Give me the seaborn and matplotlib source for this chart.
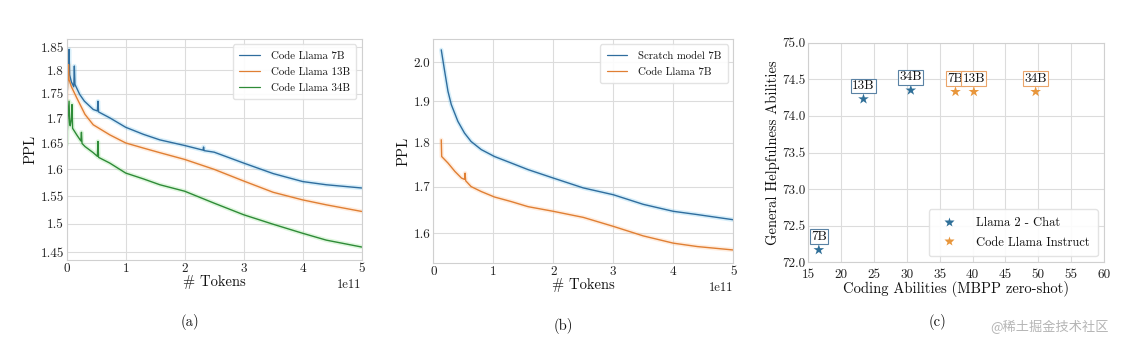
import numpy as np
import pandas as pd
import matplotlib
matplotlib.use("Agg")
import matplotlib.pyplot as plt
import matplotlib.ticker as mticker
import seaborn as sns

# ---------------- data ----------------
# (a) PPL vs tokens (x in units of 1e11 tokens)
a7_x = [0.00, 0.03, 0.04, 0.05, 0.08, 0.12, 0.13, 0.14, 0.22, 0.30, 0.45, 0.52, 0.53, 0.54,
        0.73, 1.0, 1.3, 1.58, 2.0, 2.31, 2.32, 2.33, 2.5, 3.0, 3.5, 4.0, 4.4, 5.0]
a7_y = [1.760, 1.800, 1.845, 1.790, 1.775, 1.765, 1.809, 1.770, 1.749, 1.735, 1.718, 1.715, 1.735, 1.713,
        1.701, 1.682, 1.668, 1.657, 1.646, 1.637, 1.643, 1.636, 1.633, 1.612, 1.592, 1.577, 1.571, 1.565]
a13_x = [0.00, 0.02, 0.03, 0.04, 0.08, 0.17, 0.31, 0.45, 0.73, 1.0, 1.3, 1.58, 2.0, 2.5, 3.0, 3.5,
         4.0, 4.4, 5.0]
a13_y = [1.735, 1.780, 1.812, 1.780, 1.765, 1.742, 1.708, 1.687, 1.667, 1.651, 1.641, 1.632, 1.619,
         1.600, 1.578, 1.557, 1.543, 1.534, 1.522]
a34_x = [0.00, 0.02, 0.04, 0.05, 0.06, 0.08, 0.09, 0.10, 0.17, 0.24, 0.25, 0.26, 0.31, 0.45, 0.52,
         0.53, 0.54, 0.73, 1.0, 1.3, 1.58, 2.0, 2.5, 3.0, 3.5, 4.0, 4.4, 5.0]
a34_y = [1.648, 1.700, 1.735, 1.690, 1.685, 1.700, 1.728, 1.680, 1.667, 1.655, 1.672, 1.650, 1.644,
         1.632, 1.625, 1.654, 1.623, 1.612, 1.593, 1.582, 1.571, 1.559, 1.537, 1.516, 1.499, 1.483,
         1.471, 1.459]

# (b) Scratch model vs Code Llama 7B
bs_x = [0.133, 0.19, 0.245, 0.30, 0.41, 0.52, 0.63, 0.80, 1.02, 1.3, 1.58, 2.0, 2.5, 3.0, 3.5,
        4.0, 4.4, 5.0]
bs_y = [2.032, 1.976, 1.925, 1.892, 1.851, 1.823, 1.803, 1.784, 1.768, 1.753, 1.738, 1.719, 1.697,
        1.682, 1.661, 1.646, 1.639, 1.628]
bc_x = [0.133, 0.14, 0.245, 0.36, 0.47, 0.52, 0.53, 0.54, 0.63, 0.80, 1.02, 1.3, 1.58, 2.0, 2.5,
        3.0, 3.5, 4.0, 4.4, 5.0]
bc_y = [1.807, 1.768, 1.753, 1.734, 1.719, 1.716, 1.730, 1.713, 1.700, 1.689, 1.677, 1.667, 1.656,
        1.646, 1.633, 1.614, 1.594, 1.579, 1.572, 1.565]

# (c) coding vs helpfulness
c_sizes = ["7B", "13B", "34B"]
chat_coding = [16.6, 23.4, 30.6]
chat_help = [72.17, 74.23, 74.35]
instr_coding = [37.4, 40.2, 49.6]
instr_help = [74.33, 74.33, 74.33]

a_names = ["Code Llama 7B", "Code Llama 13B", "Code Llama 34B"]
b_names = ["Scratch model 7B", "Code Llama 7B"]
c_names = ["Llama 2 - Chat", "Code Llama Instruct"]

# ---------------- style ----------------
sns.set_theme(style="whitegrid")
plt.rcParams["font.family"] = ["cmr10", "DejaVu Serif"]
plt.rcParams["axes.formatter.use_mathtext"] = False
plt.rcParams["axes.edgecolor"] = "#d0d0d0"
plt.rcParams["grid.color"] = "#dcdcdc"
plt.rcParams["grid.linewidth"] = 0.8
plt.rcParams["axes.linewidth"] = 0.8
plt.rcParams["xtick.color"] = "#222222"
plt.rcParams["ytick.color"] = "#222222"
plt.rcParams["text.color"] = "#111111"
plt.rcParams["axes.labelcolor"] = "#111111"

blue, blue_glow = "#2f6d9e", "#49b4e8"
orange, orange_glow = "#e07f33", "#ffb070"
green, green_glow = "#2e8b37", "#6fd86a"

fig = plt.figure(figsize=(11.42, 3.52), dpi=100)
axA = fig.add_axes([0.0584, 0.2614, 0.2583, 0.6278])
axB = fig.add_axes([0.3794, 0.2528, 0.2627, 0.6364])
axC = fig.add_axes([0.7078, 0.2548, 0.2589, 0.6239])

TICK = 9.5
LAB = 10.5


def build(xs, ys, names):
    frames = []
    for x, y, n in zip(xs, ys, names):
        frames.append(pd.DataFrame({"tokens": np.array(x) * 1e11, "ppl": y, "model": n}))
    return pd.concat(frames, ignore_index=True)


def draw_lines(ax, df, names, colors, glows):
    pal = dict(zip(names, colors))
    gpal = dict(zip(names, glows))
    # soft glow band under each line
    sns.lineplot(data=df, x="tokens", y="ppl", hue="model", hue_order=names, palette=gpal,
                 ax=ax, linewidth=3.2, alpha=0.22, legend=False, estimator=None, sort=False)
    sns.lineplot(data=df, x="tokens", y="ppl", hue="model", hue_order=names, palette=pal,
                 ax=ax, linewidth=1.0, estimator=None, sort=False)
    ax.set_yscale("log")
    ax.set_xlim(0, 5e11)
    ax.set_xticks(np.arange(0, 6) * 1e11)
    ax.xaxis.set_major_formatter(mticker.ScalarFormatter(useMathText=False))
    ax.ticklabel_format(axis="x", style="sci", scilimits=(0, 0))
    ax.xaxis.get_offset_text().set_fontsize(TICK - 0.5)
    ax.yaxis.set_minor_locator(mticker.NullLocator())
    ax.yaxis.set_minor_formatter(mticker.NullFormatter())
    ax.set_xlabel("# Tokens", fontsize=LAB, labelpad=0)
    ax.set_ylabel("PPL", fontsize=LAB, labelpad=2)
    ax.tick_params(labelsize=TICK, length=0, pad=2)
    for s in ax.spines.values():
        s.set_color("#d0d0d0")
    leg = ax.legend(loc="upper right", fontsize=7.8, frameon=True, framealpha=0.9,
                    edgecolor="#e0e0e0", borderpad=0.6, labelspacing=0.6, handlelength=1.9,
                    handletextpad=1.0)
    for l in leg.get_lines():
        l.set_linewidth(0.9)


# (a)
dfa = build([a7_x, a13_x, a34_x], [a7_y, a13_y, a34_y], a_names)
draw_lines(axA, dfa, a_names, [blue, orange, green], [blue_glow, orange_glow, green_glow])
axA.set_ylim(1.4367, 1.868)
a_ticks = [1.45, 1.5, 1.55, 1.6, 1.65, 1.7, 1.75, 1.8, 1.85]
axA.set_yticks(a_ticks)
axA.yaxis.set_major_formatter(mticker.FuncFormatter(lambda v, p: "%g" % round(v, 2)))
axA.yaxis.set_minor_locator(mticker.NullLocator())

# (b)
dfb = build([bs_x, bc_x], [bs_y, bc_y], b_names)
draw_lines(axB, dfb, b_names, [blue, orange], [blue_glow, orange_glow])
axB.set_ylim(1.5386, 2.061)
axB.set_yticks([1.6, 1.7, 1.8, 1.9, 2.0])
axB.yaxis.set_major_formatter(mticker.FuncFormatter(lambda v, p: "%.1f" % v))
axB.yaxis.set_minor_locator(mticker.NullLocator())

# (c)
dfc = pd.concat([
    pd.DataFrame({"coding": chat_coding, "help": chat_help, "size": c_sizes, "model": c_names[0]}),
    pd.DataFrame({"coding": instr_coding, "help": instr_help, "size": c_sizes, "model": c_names[1]}),
], ignore_index=True)
sns.scatterplot(data=dfc, x="coding", y="help", hue="model", hue_order=c_names,
                palette={c_names[0]: "#2f6f98", c_names[1]: "#e8963c"}, marker="*", s=65,
                edgecolor="none", ax=axC)
ecol = {c_names[0]: "#5a82a4", c_names[1]: "#eaa46a"}
for _, r in dfc.iterrows():
    axC.annotate(r["size"], (r["coding"], r["help"]), xytext=(0, 5), textcoords="offset points",
                 ha="center", va="bottom", fontsize=9.5,
                 bbox=dict(boxstyle="square,pad=0.1", fc="white", ec=ecol[r["model"]], lw=0.8))
axC.set_xlim(15, 60)
axC.set_ylim(72, 75)
axC.set_xticks(np.arange(15, 61, 5))
axC.set_yticks(np.arange(72, 75.01, 0.5))
axC.yaxis.set_major_formatter(mticker.FuncFormatter(lambda v, p: "%.1f" % v))
axC.tick_params(labelsize=TICK, length=0, pad=2)
axC.tick_params(axis="x", pad=4.5)
axC.set_xlabel("Coding Abilities (MBPP zero-shot)", fontsize=LAB, labelpad=0)
axC.set_ylabel("General Helpfulness Abilities", fontsize=LAB, labelpad=2)
for s in axC.spines.values():
    s.set_color("#d0d0d0")
axC.legend(loc="lower right", fontsize=9, frameon=True, framealpha=0.9, edgecolor="#e0e0e0",
           borderpad=0.6, labelspacing=0.6, handletextpad=1.2, markerscale=0.9)

# captions
fig.text(0.166, 0.085, "(a)", ha="center", va="center", fontsize=10.5)
fig.text(0.493, 0.074, "(b)", ha="center", va="center", fontsize=10.5)
fig.text(0.8205, 0.085, "(c)", ha="center", va="center", fontsize=10.5)
fig.text(0.919, 0.072, "@稀土掘金技术社区", ha="center", va="center", fontsize=9.5,
         color="#b5b5b5", family=["Noto Sans CJK SC", "DejaVu Sans"])

fig.savefig("out.png", dpi=100)
